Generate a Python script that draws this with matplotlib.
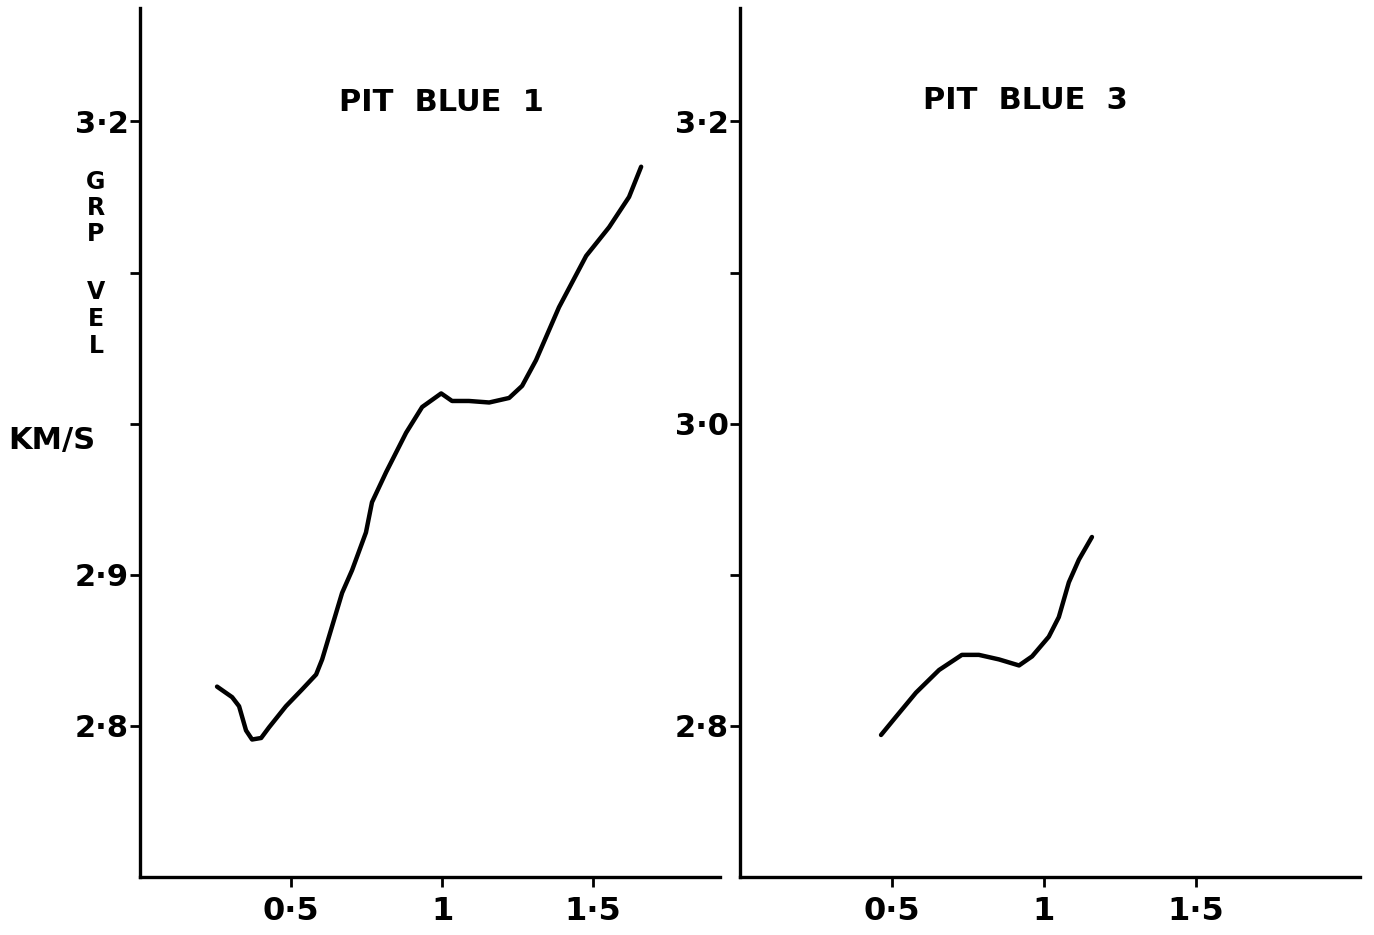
import matplotlib.pyplot as plt

# group velocity curves
pb1_period = [0.255, 0.305, 0.328, 0.351, 0.371, 0.401, 0.427, 0.483, 0.536, 0.583,
              0.603, 0.636, 0.669, 0.702, 0.748, 0.768, 0.815, 0.881, 0.934, 0.997,
              1.033, 1.089, 1.156, 1.222, 1.265, 1.311, 1.387, 1.477, 1.553, 1.619, 1.659]
pb1_vel = [2.826, 2.819, 2.813, 2.797, 2.791, 2.792, 2.799, 2.813, 2.824, 2.834,
           2.844, 2.866, 2.888, 2.903, 2.928, 2.948, 2.968, 2.994, 3.011, 3.020,
           3.015, 3.015, 3.014, 3.017, 3.025, 3.042, 3.077, 3.111, 3.130, 3.150, 3.170]

pb3_period = [0.464, 0.513, 0.579, 0.655, 0.730, 0.786, 0.852, 0.918, 0.961, 1.016,
              1.049, 1.082, 1.115, 1.158]
pb3_vel = [2.794, 2.806, 2.822, 2.837, 2.847, 2.847, 2.844, 2.840, 2.846, 2.859,
           2.872, 2.895, 2.910, 2.925]

yticks = [2.8, 2.9, 3.0, 3.1, 3.2]
left_ylabels = ["2·8", "2·9", "", "", "3·2"]
right_ylabels = ["2·8", "", "3·0", "", "3·2"]
xticks = [0.5, 1.0, 1.5]
xlabels = ["0·5", "1", "1·5"]

plt.rcParams['font.family'] = 'DejaVu Sans'
plt.rcParams['font.weight'] = 'bold'

fig = plt.figure(figsize=(13.74, 9.35), dpi=100)
ax1 = fig.add_axes([0.1019, 0.062, 0.4221, 0.9294])
ax2 = fig.add_axes([0.5386, 0.062, 0.4512, 0.9294])

def style(ax, xmax, ylabels):
    ax.set_xlim(0, xmax)
    ax.set_ylim(2.70, 3.275)
    for s in ['top', 'right']:
        ax.spines[s].set_visible(False)
    for s in ['left', 'bottom']:
        ax.spines[s].set_linewidth(2.4)
    ax.set_yticks(yticks)
    ax.set_yticklabels(ylabels)
    ax.set_xticks(xticks)
    ax.set_xticklabels(xlabels)
    ax.tick_params(axis='y', direction='out', length=7, width=2, labelsize=22, pad=1)
    ax.tick_params(axis='x', direction='out', length=7, width=2, labelsize=23, pad=7)

ax1.plot(pb1_period, pb1_vel, color='black', lw=3.2, solid_capstyle='round',
         solid_joinstyle='round')
ax2.plot(pb3_period, pb3_vel, color='black', lw=3.2, solid_capstyle='round',
         solid_joinstyle='round')
style(ax1, 1.92, left_ylabels)
style(ax2, 2.04, right_ylabels)

ax1.text(0.52, 0.891, "PIT  BLUE  1", transform=ax1.transAxes, ha='center', va='center',
         fontsize=22)
ax2.text(0.46, 0.894, "PIT  BLUE  3", transform=ax2.transAxes, ha='center', va='center',
         fontsize=22)

# stacked y label
for ch, py in zip("GRPVEL", [182, 208, 234, 292, 319, 346]):
    fig.text(96 / 1374, 1 - py / 935, ch, ha='center', va='center', fontsize=17)
fig.text(8 / 1374, 1 - 440 / 935, "KM/S", ha='left', va='center', fontsize=22)

fig.savefig("out.png", dpi=100, facecolor='white')
